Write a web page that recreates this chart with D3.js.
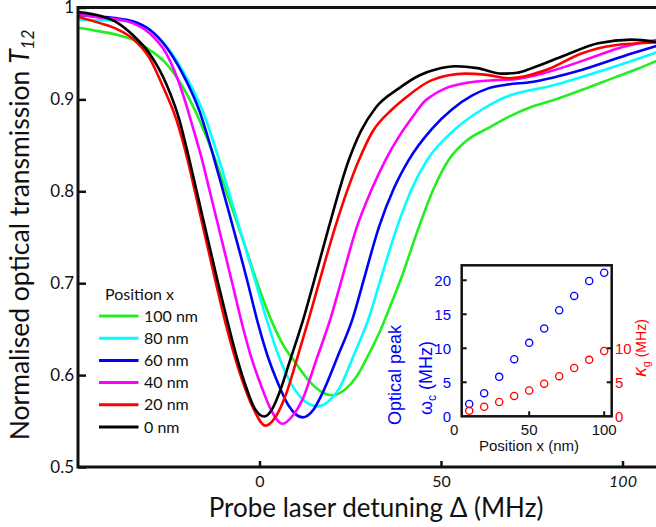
<!DOCTYPE html>
<html>
<head>
<meta charset="utf-8">
<script src="https://cdn.jsdelivr.net/npm/d3@7"></script>
<style>
  body { margin: 0; background: #fff; }
  svg { display: block; }
</style>
</head>
<body>
<svg id="chart" width="656" height="527"></svg>
<script>
// transmission spectra, one array of [detuning MHz, T12] per tip position
var pos0 = [[-50,0.995],[-44,0.991],[-39,0.983],[-34.9,0.970],[-30.3,0.950],[-25.7,0.917],[-22.1,0.878],[-19.3,0.834],[-17.3,0.800],[-11.4,0.700],[-8.6,0.655],[-6,0.616],[-3.7,0.587],[-1.5,0.565],[1.3,0.555],[3.5,0.563],[5.4,0.580],[8.5,0.617],[12.3,0.664],[15,0.702],[19.1,0.761],[24.6,0.834],[28,0.866],[32,0.891],[38.4,0.912],[44,0.926],[49,0.933],[54,0.936],[60,0.934],[66.8,0.928],[71,0.929],[75,0.934],[84.2,0.948],[93.3,0.961],[102.5,0.965],[110,0.962]];
var pos20 = [[-50,0.990],[-44,0.983],[-39,0.976],[-34.9,0.966],[-30.3,0.945],[-26.6,0.914],[-22.9,0.878],[-19.8,0.834],[-17.8,0.800],[-12,0.700],[-9.2,0.654],[-6.6,0.617],[-4.2,0.588],[-1.5,0.562],[1.6,0.545],[4.5,0.555],[7.2,0.578],[10.2,0.616],[13.5,0.660],[16.5,0.702],[21,0.763],[27.4,0.834],[31,0.864],[36.5,0.889],[40,0.901],[47.5,0.921],[56.7,0.928],[62,0.927],[68.6,0.923],[74,0.926],[79.6,0.933],[88.7,0.950],[97.9,0.959],[110,0.962]];
var pos40 = [[-50,0.993],[-44,0.989],[-39,0.987],[-34.9,0.983],[-30.3,0.972],[-25.7,0.950],[-21.2,0.907],[-18.4,0.870],[-15.8,0.834],[-13.7,0.800],[-7.5,0.700],[-4.7,0.654],[-2.1,0.617],[0.4,0.589],[3.2,0.562],[6.3,0.547],[9.2,0.556],[11.8,0.573],[15.5,0.615],[19.6,0.662],[22.5,0.702],[26.8,0.761],[31,0.803],[34.7,0.834],[38.5,0.860],[42,0.880],[45.5,0.898],[47.5,0.904],[51.2,0.912],[57,0.918],[65,0.921],[70.4,0.922],[79.6,0.930],[93.3,0.948],[100,0.957],[110,0.965]];
var pos60 = [[-50,0.992],[-44,0.990],[-39,0.988],[-34.9,0.985],[-30.3,0.976],[-25.7,0.957],[-21.2,0.928],[-16.6,0.888],[-12.4,0.834],[-10,0.800],[-3.2,0.700],[-0.4,0.656],[2.3,0.620],[5,0.592],[8,0.567],[11.9,0.554],[14.8,0.562],[17.3,0.580],[21.5,0.620],[25.7,0.662],[28.6,0.702],[32.9,0.761],[37,0.803],[41.1,0.834],[47.5,0.868],[53,0.889],[58.5,0.904],[63,0.912],[68,0.916],[75,0.919],[88.7,0.932],[102.5,0.950],[110,0.959]];
var pos80 = [[-50,0.987],[-44,0.986],[-39,0.986],[-34.9,0.984],[-30.3,0.976],[-25.7,0.958],[-20.7,0.928],[-15.7,0.888],[-11.1,0.834],[-8.5,0.800],[-1,0.700],[2,0.660],[4.8,0.626],[8,0.596],[11.8,0.574],[16,0.566],[19.2,0.572],[21.9,0.585],[26,0.622],[30.1,0.662],[33.2,0.702],[37.9,0.761],[42,0.803],[46.2,0.834],[54,0.868],[61.3,0.889],[65.8,0.899],[69.5,0.905],[79.6,0.914],[93.3,0.930],[110,0.952]];
var pos100 = [[-50,0.978],[-44,0.974],[-39,0.970],[-34.9,0.965],[-30.3,0.954],[-25.7,0.939],[-21.2,0.914],[-16.6,0.878],[-12.5,0.838],[-9.2,0.800],[-4.8,0.750],[-0.6,0.700],[3,0.662],[6.5,0.633],[10,0.613],[14,0.592],[17,0.582],[20,0.578],[23.5,0.584],[26.5,0.597],[29.5,0.618],[33,0.646],[36,0.675],[38.8,0.703],[43.9,0.761],[48,0.803],[52.1,0.834],[57,0.855],[63.1,0.869],[68.6,0.881],[75,0.892],[82.3,0.901],[90,0.912],[97.9,0.924],[104,0.933],[110,0.943]];

var seriesNames = ["100 nm", "80 nm", "60 nm", "40 nm", "20 nm", "0 nm"];
var seriesData = [pos100, pos80, pos60, pos40, pos20, pos0];
var seriesColors = ["#22ee22", "#00ffff", "#0000ff", "#ff00ff", "#ff0000", "#000000"];

var xTicks = [0, 50, 100];
var yTicks = [0.5, 0.6, 0.7, 0.8, 0.9, 1];

// inset: peak position and coupling vs tip position
var insetPos = [10, 20, 30, 40, 50, 60, 70, 80, 90, 100];
var omegaC = [1.8, 3.4, 5.8, 8.4, 10.8, 12.9, 15.6, 17.7, 19.9, 21.1];
var kappaG = [0.8, 1.4, 2.1, 3.0, 3.8, 4.8, 5.9, 7.1, 8.3, 9.6];
var insetXTicks = [0, 50, 100];
var insetLeftTicks = [0, 5, 10, 15, 20];
var insetRightTicks = [0, 5, 10];

var svg = d3.select("#chart");
var mainFont = "Lato, 'Open Sans', sans-serif";
var insetFont = "'Liberation Sans', Arial, sans-serif";

var plotLeft = 78, plotTop = 7.5, plotBottom = 467;
var x = d3.scaleLinear().domain([-50, 110]).range([plotLeft, plotLeft + 160 * 3.63]);
var y = d3.scaleLinear().domain([0.5, 1]).range([plotBottom, plotTop]);

var line = d3.line()
    .x(function(d){ return x(d[0]); })
    .y(function(d){ return y(d[1]); })
    .curve(d3.curveMonotoneX);

svg.append("g").selectAll("path")
    .data(seriesData)
    .enter()
    .append("path")
    .attr("d", line)
    .attr("fill", "none")
    .attr("stroke", function(d, i){ return seriesColors[i]; })
    .attr("stroke-width", 2.6);

// frame
svg.append("path")
    .attr("d", "M656," + plotTop + "H" + plotLeft + "V" + plotBottom + "H656")
    .attr("fill", "none")
    .attr("stroke", "#111")
    .attr("stroke-width", 3);

// x axis ticks (inward)
var xAxis = d3.axisBottom(x).tickValues(xTicks).tickSizeInner(-6).tickSizeOuter(0).tickFormat(d3.format("d"));
var gx = svg.append("g").attr("transform", "translate(0," + plotBottom + ")").call(xAxis);
gx.select(".domain").remove();
gx.selectAll(".tick line").attr("stroke", "#111").attr("stroke-width", 2.5);
gx.selectAll(".tick text")
    .attr("y", 20)
    .attr("dy", 0)
    .attr("font-family", mainFont)
    .attr("font-size", 16)
    .attr("fill", "#111")
    .attr("font-style", function(d){ return d === 100 ? "italic" : "normal"; });

var yAxis = d3.axisLeft(y).tickValues(yTicks).tickSizeInner(-8).tickSizeOuter(0).tickFormat(function(d){ return d === 1 ? "1" : d3.format(".1f")(d); });
var gy = svg.append("g").attr("transform", "translate(" + plotLeft + ",0)").call(yAxis);
gy.select(".domain").remove();
gy.selectAll(".tick line").attr("stroke", "#111").attr("stroke-width", 2.5);
gy.selectAll(".tick text")
    .attr("x", -4)
    .attr("font-family", mainFont)
    .attr("font-size", 17)
    .attr("fill", "#111");

// axis titles
svg.append("text")
    .attr("x", 376).attr("y", 517)
    .attr("text-anchor", "middle")
    .attr("font-family", mainFont)
    .attr("font-size", 26)
    .attr("fill", "#111")
    .text("Probe laser detuning \u0394 (MHz)");

var yt = svg.append("text")
    .attr("transform", "translate(29,235) rotate(-90)")
    .attr("text-anchor", "middle")
    .attr("font-family", mainFont)
    .attr("font-size", 26.5)
    .attr("fill", "#111");
yt.append("tspan").text("Normalised optical transmission ");
yt.append("tspan").attr("font-style", "italic").text("T");
yt.append("tspan").attr("font-style", "italic").attr("font-size", 17).attr("dy", 5).text("12");

// legend
var legend = svg.append("g").attr("font-family", mainFont).attr("fill", "#111");
legend.append("text").attr("x", 105).attr("y", 300).attr("font-size", 16).text("Position x");
var items = legend.selectAll("g.item")
    .data(seriesNames)
    .enter()
    .append("g")
    .attr("transform", function(d, i){ return "translate(0," + (316 + i * 22.2) + ")"; });
items.append("line")
    .attr("x1", 99).attr("x2", 138.5)
    .attr("stroke", function(d, i){ return seriesColors[i]; })
    .attr("stroke-width", 3);
items.append("text")
    .attr("x", 144).attr("dy", "0.35em")
    .attr("font-size", 16)
    .text(function(d){ return d; });

// inset
var ix = d3.scaleLinear().domain([5, 105]).range([461.7, 611.7]);
var iy = d3.scaleLinear().domain([0, 22.2]).range([416.3, 265.3]);
var inset = svg.append("g").attr("font-family", insetFont);

inset.append("rect")
    .attr("x", ix(5)).attr("y", iy(22.2))
    .attr("width", ix(105) - ix(5)).attr("height", iy(0) - iy(22.2))
    .attr("fill", "#fff")
    .attr("stroke", "#111")
    .attr("stroke-width", 2.5);

inset.selectAll("line.xt").data([50, 100]).enter().append("line")
    .attr("x1", ix).attr("x2", ix)
    .attr("y1", iy(0)).attr("y2", iy(0) - 5)
    .attr("stroke", "#111").attr("stroke-width", 2);
inset.selectAll("line.lt").data([5, 10, 15, 20]).enter().append("line")
    .attr("x1", ix(5)).attr("x2", ix(5) + 5)
    .attr("y1", iy).attr("y2", iy)
    .attr("stroke", "#111").attr("stroke-width", 2);
inset.selectAll("line.rt").data([5, 10]).enter().append("line")
    .attr("x1", ix(105)).attr("x2", ix(105) - 5)
    .attr("y1", iy).attr("y2", iy)
    .attr("stroke", "#111").attr("stroke-width", 2);

inset.selectAll("text.xl").data(insetXTicks).enter().append("text")
    .attr("x", ix).attr("y", 435)
    .attr("text-anchor", "middle")
    .attr("font-size", 15).attr("fill", "#111")
    .text(function(d){ return d; });
inset.selectAll("text.ll").data(insetLeftTicks).enter().append("text")
    .attr("x", 451).attr("y", iy).attr("dy", "0.36em")
    .attr("text-anchor", "end")
    .attr("font-size", 15).attr("fill", "#0000ff")
    .text(function(d){ return d; });
inset.selectAll("text.rl").data(insetRightTicks).enter().append("text")
    .attr("x", 615).attr("y", iy).attr("dy", "0.36em")
    .attr("font-size", 15).attr("fill", "#ff0000")
    .text(function(d){ return d; });

inset.selectAll("circle.w").data(insetPos).enter().append("circle")
    .attr("cx", ix).attr("cy", function(d, i){ return iy(omegaC[i]); })
    .attr("r", 3.6)
    .attr("fill", "none").attr("stroke", "#0000ff").attr("stroke-width", 1.3);
inset.selectAll("circle.k").data(insetPos).enter().append("circle")
    .attr("cx", ix).attr("cy", function(d, i){ return iy(kappaG[i]); })
    .attr("r", 3.6)
    .attr("fill", "none").attr("stroke", "#ff0000").attr("stroke-width", 1.3);

inset.append("text")
    .attr("x", 529).attr("y", 450.5)
    .attr("text-anchor", "middle")
    .attr("font-size", 15).attr("fill", "#111")
    .text("Position x (nm)");

inset.append("text")
    .attr("transform", "translate(401,375) rotate(-90)")
    .attr("text-anchor", "middle")
    .attr("font-size", 18).attr("fill", "#0000ff")
    .text("Optical peak");
var wl = inset.append("text")
    .attr("transform", "translate(432,378) rotate(-90)")
    .attr("text-anchor", "middle")
    .attr("font-size", 18).attr("fill", "#0000ff");
wl.append("tspan").text("\u03c9");
wl.append("tspan").attr("font-size", 12).attr("dy", 4).text("c");
wl.append("tspan").attr("dy", -4).text(" (MHz)");

var kl = inset.append("text")
    .attr("transform", "translate(646,348) rotate(-90)")
    .attr("text-anchor", "middle")
    .attr("font-size", 14).attr("fill", "#ff0000");
kl.append("tspan").attr("font-style", "italic").attr("font-size", 19).text("\u03ba");
kl.append("tspan").attr("font-size", 11).attr("dy", 4).text("g");
kl.append("tspan").attr("dy", -4).text(" (MHz)");
</script>
</body>
</html>
